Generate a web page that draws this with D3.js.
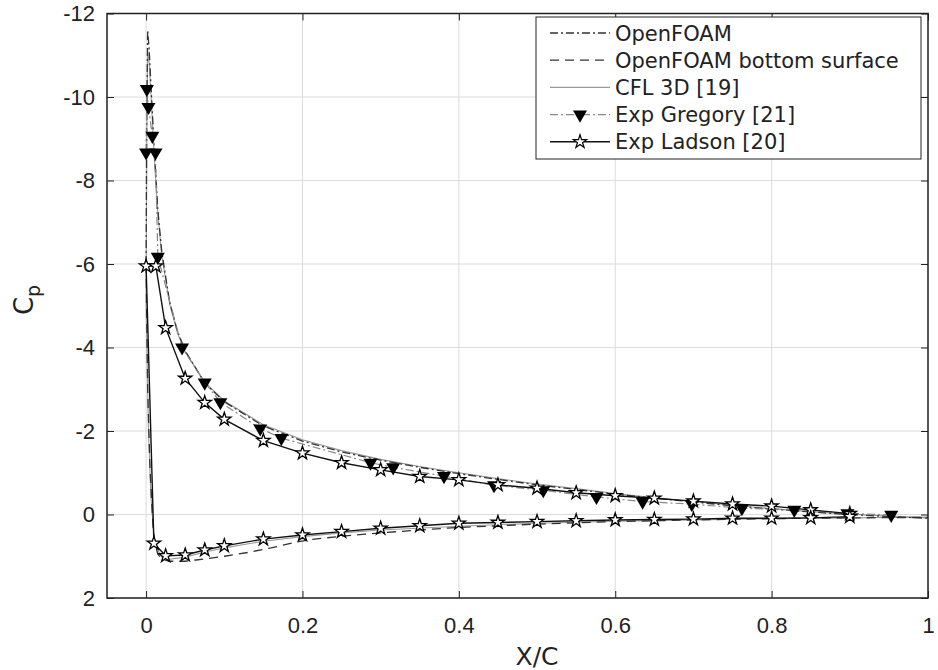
<!DOCTYPE html>
<html>
<head>
<meta charset="utf-8">
<script src="https://cdn.jsdelivr.net/npm/d3@7"></script>
<style>
  body { margin: 0; background: #fff; }
  svg { font-family: "DejaVu Sans", sans-serif; }
</style>
</head>
<body>
<svg id="chart" width="938" height="670"></svg>
<script>
// tick values
const xTicks = [0, 0.2, 0.4, 0.6, 0.8, 1];
const yTicks = [-12, -10, -8, -6, -4, -2, 0, 2];

// OpenFOAM, upper surface
const foamX  = [0, 0.0008, 0.002, 0.004, 0.007, 0.01, 0.015, 0.02, 0.03, 0.04, 0.05, 0.075, 0.1, 0.15, 0.2, 0.25, 0.3, 0.35, 0.4, 0.45, 0.5, 0.55, 0.6, 0.65, 0.7, 0.75, 0.8, 0.85, 0.9, 0.95, 1];
const foamCp = [-6, -9.5, -11.6, -11.1, -10.0, -8.9, -7.3, -6.3, -5.1, -4.4, -3.92, -3.15, -2.7, -2.12, -1.76, -1.5, -1.3, -1.13, -0.98, -0.84, -0.71, -0.6, -0.49, -0.39, -0.3, -0.21, -0.13, -0.06, 0.0, 0.05, 0.09];

// OpenFOAM, bottom surface
const bottomX  = [0, 0.002, 0.005, 0.008, 0.01, 0.015, 0.02, 0.03, 0.05, 0.064, 0.1, 0.13, 0.16, 0.19, 0.21, 0.25, 0.28, 0.35, 0.4, 0.5, 0.6, 0.7, 0.8, 0.9, 1];
const bottomCp = [-6, -3, -1.1, 0, 0.6, 0.95, 1.07, 1.12, 1.12, 1.09, 1.0, 0.91, 0.8, 0.67, 0.6, 0.52, 0.47, 0.37, 0.31, 0.23, 0.17, 0.13, 0.1, 0.08, 0.07];

// CFL 3D [19], upper then lower surface
const cflUpX  = [0, 0.001, 0.002, 0.004, 0.007, 0.01, 0.015, 0.02, 0.03, 0.04, 0.05, 0.075, 0.1, 0.15, 0.2, 0.25, 0.3, 0.35, 0.4, 0.45, 0.5, 0.55, 0.6, 0.65, 0.7, 0.75, 0.8, 0.85, 0.9, 0.95, 1];
const cflUpCp = [-5, -9.2, -11.1, -10.8, -9.8, -8.7, -7.2, -6.2, -5.05, -4.35, -3.9, -3.17, -2.72, -2.15, -1.79, -1.53, -1.32, -1.15, -1.0, -0.86, -0.73, -0.62, -0.5, -0.4, -0.31, -0.22, -0.14, -0.07, -0.01, 0.04, 0.08];
const cflLowX  = [0, 0.003, 0.006, 0.009, 0.012, 0.02, 0.03, 0.05, 0.075, 0.1, 0.15, 0.2, 0.25, 0.3, 0.4, 0.5, 0.6, 0.7, 0.8, 0.9, 1];
const cflLowCp = [-5, -2, -0.5, 0.3, 0.75, 1.02, 1.07, 1.02, 0.9, 0.8, 0.64, 0.53, 0.44, 0.37, 0.28, 0.21, 0.16, 0.13, 0.1, 0.08, 0.06];

// Exp Gregory [21]
const gregX  = [0, 0.001, 0.003, 0.008, 0.012, 0.015, 0.046, 0.075, 0.095, 0.146, 0.173, 0.287, 0.316, 0.381, 0.445, 0.508, 0.576, 0.635, 0.698, 0.762, 0.829, 0.897, 0.953];
const gregCp = [-8.67, -10.19, -9.76, -9.07, -8.67, -6.17, -4.0, -3.16, -2.69, -2.06, -1.83, -1.24, -1.13, -0.92, -0.7, -0.58, -0.42, -0.31, -0.25, -0.15, -0.11, -0.03, 0.01];

// Exp Ladson [20], upper and lower surface
const ladUpX  = [0, 0.0125, 0.025, 0.05, 0.075, 0.1, 0.15, 0.2, 0.25, 0.3, 0.35, 0.4, 0.45, 0.5, 0.55, 0.6, 0.65, 0.7, 0.75, 0.8, 0.85, 0.9];
const ladUpCp = [-5.95, -5.95, -4.47, -3.26, -2.68, -2.28, -1.77, -1.47, -1.24, -1.07, -0.91, -0.83, -0.71, -0.63, -0.52, -0.45, -0.39, -0.32, -0.25, -0.2, -0.11, -0.02];
const ladLowX  = [0.01, 0.025, 0.05, 0.075, 0.1, 0.15, 0.2, 0.25, 0.3, 0.35, 0.4, 0.45, 0.5, 0.55, 0.6, 0.65, 0.7, 0.75, 0.8, 0.85, 0.9];
const ladLowCp = [0.69, 0.99, 0.97, 0.85, 0.75, 0.59, 0.49, 0.41, 0.33, 0.27, 0.21, 0.19, 0.17, 0.15, 0.13, 0.12, 0.11, 0.09, 0.09, 0.08, 0.05];

const legendNames = ["OpenFOAM", "OpenFOAM bottom surface", "CFL 3D [19]", "Exp Gregory [21]", "Exp Ladson [20]"];

const zip = (xs, ys) => xs.map((x, i) => [x, ys[i]]);

const svg = d3.select("#chart");
const margin = { top: 13.5, right: 10, bottom: 72, left: 107 };
const W = 938 - margin.left - margin.right;
const H = 670 - margin.top - margin.bottom;

const x = d3.scaleLinear().domain([-0.05, 1]).range([0, W]);
const y = d3.scaleLinear().domain([-12, 2]).range([0, H]);

const fig = svg.append("g").attr("transform", `translate(${margin.left},${margin.top})`);

// grid
fig.append("g").selectAll("line").data(xTicks).join("line")
  .attr("x1", d => x(d)).attr("x2", d => x(d)).attr("y1", 0).attr("y2", H)
  .attr("stroke", "#dcdcdc").attr("stroke-width", 1);
fig.append("g").selectAll("line").data(yTicks).join("line")
  .attr("x1", 0).attr("x2", W).attr("y1", d => y(d)).attr("y2", d => y(d))
  .attr("stroke", "#dcdcdc").attr("stroke-width", 1);

const line = d3.line().x(d => x(d[0])).y(d => y(d[1]));

const series = [
  { pts: zip(cflUpX, cflUpCp), stroke: "#9a9a9a", width: 1.1, dash: null },
  { pts: zip(cflLowX, cflLowCp), stroke: "#9a9a9a", width: 1.1, dash: null },
  { pts: zip(foamX, foamCp), stroke: "#333", width: 1.3, dash: "8,3,2,3" },
  { pts: zip(bottomX, bottomCp), stroke: "#333", width: 1.3, dash: "9,6" },
  { pts: zip(gregX, gregCp), stroke: "#888", width: 1.2, dash: "8,3,2,3" },
  { pts: zip(ladUpX, ladUpCp).reverse().concat(zip(ladLowX, ladLowCp)), stroke: "#111", width: 1.4, dash: null }
];

series.forEach(s => {
  fig.append("path").datum(s.pts)
    .attr("d", line).attr("fill", "none")
    .attr("stroke", s.stroke).attr("stroke-width", s.width)
    .attr("stroke-dasharray", s.dash);
});

const tri = d3.symbol(d3.symbolTriangle, 85);
const star = d3.symbol(d3.symbolStar, 55);

fig.append("g").selectAll("path").data(zip(gregX, gregCp)).join("path")
  .attr("d", tri)
  .attr("transform", d => `translate(${x(d[0])},${y(d[1])}) rotate(180)`)
  .attr("fill", "#000");

fig.append("g").selectAll("path").data(zip(ladUpX, ladUpCp).concat(zip(ladLowX, ladLowCp))).join("path")
  .attr("d", star)
  .attr("transform", d => `translate(${x(d[0])},${y(d[1])})`)
  .attr("fill", "#fff").attr("stroke", "#000").attr("stroke-width", 1.3);

// axes, MATLAB style box with inward ticks
const tick = 7;
const styleAxis = g => {
  g.select(".domain").remove();
  g.selectAll(".tick line").attr("stroke", "#222");
  g.selectAll("text").attr("fill", "#222").attr("font-size", 22);
};
fig.append("g").attr("transform", `translate(0,${H})`)
  .call(d3.axisBottom(x).tickValues(xTicks).tickSize(-tick).tickPadding(19).tickFormat(d3.format("~g")))
  .call(styleAxis);
fig.append("g")
  .call(d3.axisTop(x).tickValues(xTicks).tickSize(-tick).tickFormat(""))
  .call(styleAxis);
fig.append("g")
  .call(d3.axisLeft(y).tickValues(yTicks).tickSize(-tick).tickPadding(12).tickFormat(d => d))
  .call(styleAxis);
fig.append("g").attr("transform", `translate(${W},0)`)
  .call(d3.axisRight(y).tickValues(yTicks).tickSize(-tick).tickFormat(""))
  .call(styleAxis);

fig.append("rect").attr("width", W).attr("height", H)
  .attr("fill", "none").attr("stroke", "#222").attr("stroke-width", 1.5);

// axis titles
svg.append("text")
  .attr("x", margin.left + x(0.5)).attr("y", 665)
  .attr("text-anchor", "middle").attr("font-size", 25).attr("fill", "#222")
  .text("X/C");

const yl = svg.append("text")
  .attr("transform", "translate(33,300) rotate(-90)")
  .attr("text-anchor", "middle").attr("font-size", 26).attr("fill", "#222");
yl.append("tspan").text("C");
yl.append("tspan").attr("font-size", 19).attr("dy", 7).text("p");

// legend
const lg = svg.append("g").attr("transform", "translate(536,17)");
lg.append("rect").attr("width", 385).attr("height", 142)
  .attr("fill", "#fff").attr("stroke", "#222").attr("stroke-width", 1);

const legendStyles = [series[2], series[3], series[0], series[4], series[5]];
legendNames.forEach((name, i) => {
  const cy = 16 + i * 27.2;
  const s = legendStyles[i];
  lg.append("line").attr("x1", 14).attr("x2", 74).attr("y1", cy).attr("y2", cy)
    .attr("stroke", s.stroke).attr("stroke-width", s.width).attr("stroke-dasharray", s.dash);
  if (i === 3) {
    lg.append("path").attr("d", tri).attr("transform", `translate(44,${cy}) rotate(180)`).attr("fill", "#000");
  }
  if (i === 4) {
    lg.append("path").attr("d", star).attr("transform", `translate(44,${cy})`)
      .attr("fill", "#fff").attr("stroke", "#000").attr("stroke-width", 1.2);
  }
  lg.append("text").attr("x", 79).attr("y", cy).attr("dy", "0.36em")
    .attr("font-size", 21).attr("fill", "#222").text(name);
});
</script>
</body>
</html>
